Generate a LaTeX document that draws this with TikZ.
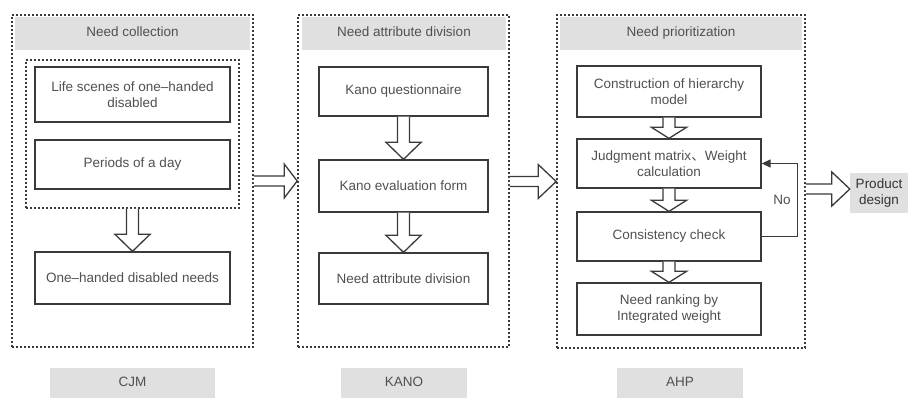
\documentclass[tikz,border=0pt]{standalone}
\usepackage{fontspec}
\setmainfont{Liberation Sans}
\newfontfamily\cjk{Noto Sans CJK SC}
\usetikzlibrary{calc,arrows.meta}
\definecolor{txt}{HTML}{505050}
\definecolor{edge}{HTML}{3A3A3A}
\definecolor{hdr}{HTML}{E0E0E0}
\newcommand\blockdown[3]{\draw[blk] let \p1=(#1.south), \p2=(#2.north) in
  (\x1-6pt,\y1) -- (\x1-6pt,\y2+#3pt) -- (\x1-17.5pt,\y2+#3pt) -- (\x1,\y2)
  -- (\x1+17.5pt,\y2+#3pt) -- (\x1+6pt,\y2+#3pt) -- (\x1+6pt,\y1);}
\newcommand\blockright[4]{\draw[blk] let \p1=(#1.east), \p2=(#2.west) in
  (\x1,\y2+#3pt+5pt) -- (\x2-#4pt,\y2+#3pt+5pt) -- (\x2-#4pt,\y2+#3pt+17pt) -- (\x2,\y2+#3pt)
  -- (\x2-#4pt,\y2+#3pt-17pt) -- (\x2-#4pt,\y2+#3pt-5pt) -- (\x1,\y2+#3pt-5pt);}
\begin{document}
\begin{tikzpicture}[x=1pt,y=-1pt,
  every node/.style={inner sep=0pt, align=center, text=txt,
    font=\fontsize{13.5}{16}\selectfont},
  panel/.style={draw=edge, line width=1.6pt, dash pattern=on 1.6pt off 2.4pt},
  hdrbox/.style={fill=hdr, text height=9.7pt, text depth=2.8pt},
  lbl/.style={fill=hdr},
  stepbox/.style={draw=edge, line width=1.3pt, fill=white},
  blk/.style={draw=edge, line width=1.3pt, fill=white, line join=miter},
  fb/.style={draw=edge, line width=1.3pt, -{Triangle[length=9pt,width=8pt]}}]
\fill[white] (0,0) rectangle (908,398);
\useasboundingbox (0,0) rectangle (908,398);

% Panel 1
\node[panel, minimum width=241, minimum height=332] (outer1) at (132.5,181) {};
\node[hdrbox, minimum width=235, minimum height=33] (hdr1) at (132.5,33.5) {Need collection};
\node[panel, minimum width=213, minimum height=148] (inner1) at (132.5,134) {};
\node[stepbox, minimum width=195, minimum height=55] (b11) at (132.5,94.5) {Life scenes of one–handed\\disabled};
\node[stepbox, minimum width=195, minimum height=49] (b12) at (132.5,164.5) {Periods of a day};
\node[stepbox, minimum width=195, minimum height=52] (b13) at (132.5,278) {One–handed disabled needs};
\node[lbl, minimum width=165, minimum height=30, text height=9.7pt, text depth=2.8pt] (cjm) at (132.5,383) {CJM};

% Panel 2
\node[panel, minimum width=211, minimum height=332] (outer2) at (403.5,181) {};
\node[hdrbox, minimum width=204, minimum height=33] (hdr2) at (404,33.5) {Need attribute division};
\node[stepbox, minimum width=169, minimum height=49] (b21) at (403.5,91.5) {Kano questionnaire};
\node[stepbox, minimum width=169, minimum height=52] (b22) at (403.5,186) {Kano evaluation form};
\node[stepbox, minimum width=169, minimum height=51] (b23) at (403.5,278.5) {Need attribute division};
\node[lbl, minimum width=126, minimum height=30, text height=9.7pt, text depth=2.8pt] (kano) at (404,383) {KANO};

% Panel 3
\node[panel, minimum width=248, minimum height=333] (outer3) at (681,181.5) {};
\node[hdrbox, minimum width=242, minimum height=33] (hdr3) at (681,33.5) {Need prioritization};
\node[stepbox, minimum width=184, minimum height=51] (b31) at (669,91.5) {Construction of hierarchy\\model};
\node[stepbox, minimum width=184, minimum height=49] (b32) at (669,163.5) {Judgment matrix{\cjk 、}Weight\\calculation};
\node[stepbox, minimum width=184, minimum height=49] (b33) at (669,236.5) {Consistency check};
\node[stepbox, minimum width=184, minimum height=52] (b34) at (669,309) {Need ranking by\\Integrated weight};
\node[lbl, minimum width=126, minimum height=30, text height=9.7pt, text depth=2.8pt] (ahp) at (680,383) {AHP};

% Product design
\node[lbl, minimum width=58, minimum height=40, text=black!80] (prod) at (879,193) {Product\\design};

% Block arrows
\blockdown{inner1}{b13}{17}
\blockdown{b21}{b22}{17}
\blockdown{b22}{b23}{17}
\blockdown{b31}{b32}{11}
\blockdown{b32}{b33}{11}
\blockdown{b33}{b34}{11}
\blockright{outer1}{outer2}{0}{13}
\blockright{outer2}{outer3}{0}{18}
\blockright{outer3}{prod}{4}{18}

% Feedback
\draw[fb] (b33.east) -- ++(36,0) |- (b32.east);
\node (no) at (782,200) {No};
\end{tikzpicture}
\end{document}
